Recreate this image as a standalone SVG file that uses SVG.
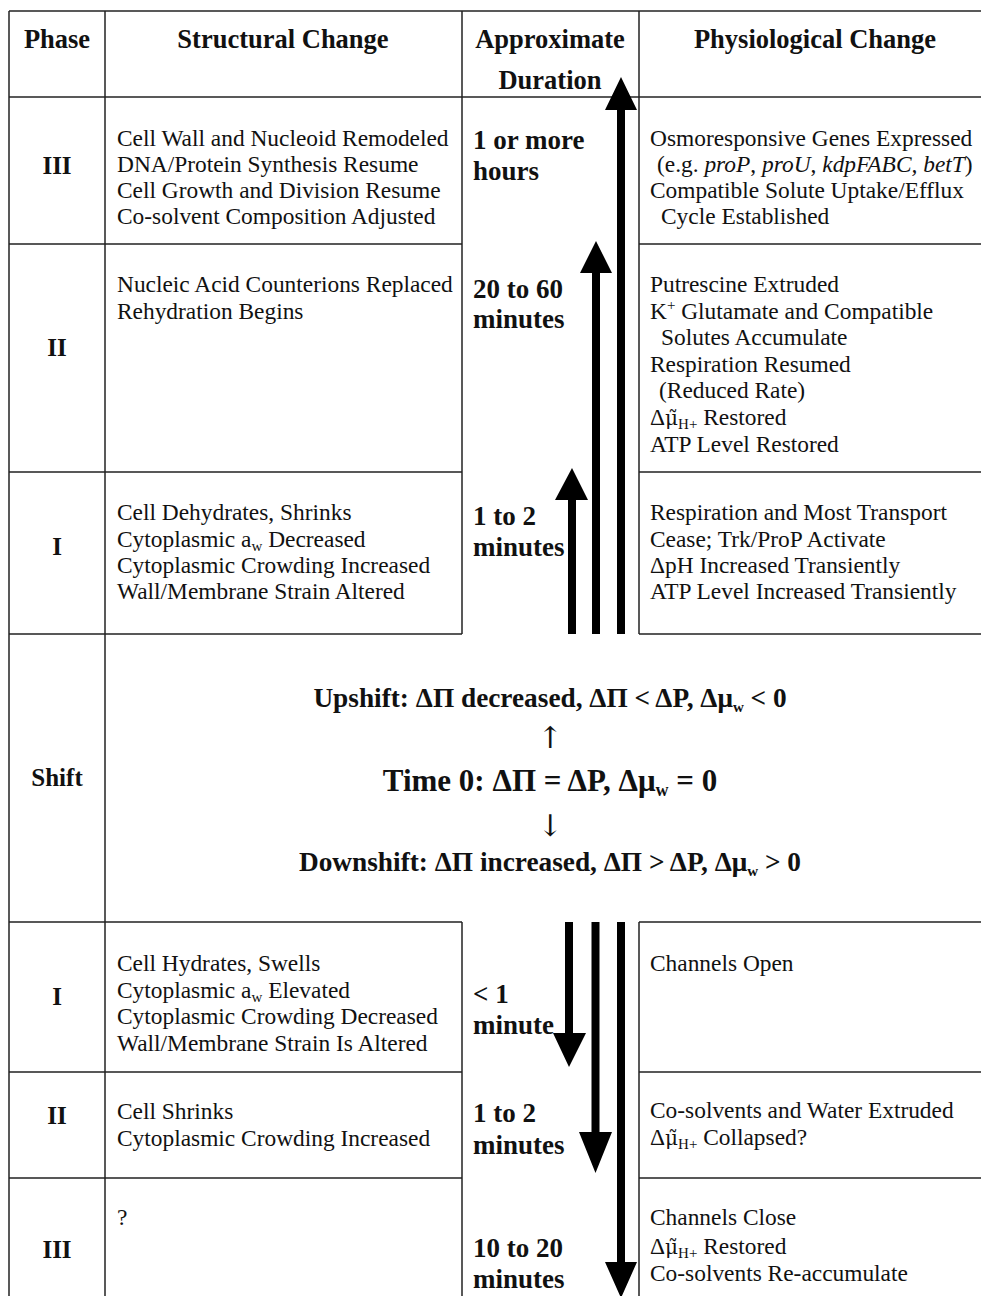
<svg xmlns="http://www.w3.org/2000/svg" width="981" height="1296" viewBox="0 0 981 1296">
<style>
.ln{stroke:#222;stroke-width:1.5;fill:none}
.hd{font-family:"Liberation Serif",serif;font-weight:bold;font-size:26.5px;fill:#111;text-anchor:middle}
.ph{font-family:"Liberation Serif",serif;font-weight:bold;font-size:25px;fill:#111;text-anchor:middle}
.tx{font-family:"Liberation Serif",serif;font-size:23.4px;fill:#111}
.du{font-family:"Liberation Serif",serif;font-weight:bold;font-size:27px;fill:#111}
.sh{font-family:"Liberation Serif",serif;font-weight:bold;font-size:27.3px;fill:#111;text-anchor:middle}
.sh0{font-family:"Liberation Serif",serif;font-weight:bold;font-size:31px;fill:#111;text-anchor:middle}
.ar{font-family:"DejaVu Serif",serif;font-size:30px;fill:#111;text-anchor:middle}
.sub{font-size:15px}
.mu{font-family:"DejaVu Serif",serif;font-size:20px}
.it{font-style:italic}
.big{fill:#000}
</style>
<rect width="981" height="1296" fill="#fff"/>
<g id="grid" class="ln">
<line x1="9" y1="11" x2="981" y2="11"/>
<line x1="9" y1="97" x2="981" y2="97"/>
<line x1="9" y1="11" x2="9" y2="1296"/>
<line x1="105" y1="11" x2="105" y2="1296"/>
<line x1="462" y1="11" x2="462" y2="634"/>
<line x1="639" y1="11" x2="639" y2="634"/>
<line x1="462" y1="922" x2="462" y2="1296"/>
<line x1="639" y1="922" x2="639" y2="1296"/>
<path d="M9 244H462M639 244H981M9 472H462M639 472H981M9 634H462M639 634H981M9 922H462M639 922H981M9 1072H462M639 1072H981M9 1178H462M639 1178H981"/>
</g>
<g id="header">
<text class="hd" x="57" y="48">Phase</text>
<text class="hd" x="283" y="48">Structural Change</text>
<text class="hd" x="550" y="48">Approximate</text>
<text class="hd" x="550" y="89">Duration</text>
<text class="hd" x="815" y="48">Physiological Change</text>
</g>
<g id="up-III">
<text class="ph" x="57" y="174">III</text>
<text class="tx"><tspan x="117" y="146">Cell Wall and Nucleoid Remodeled</tspan><tspan x="117" y="172">DNA/Protein Synthesis Resume</tspan><tspan x="117" y="198">Cell Growth and Division Resume</tspan><tspan x="117" y="224">Co-solvent Composition Adjusted</tspan></text>
<text class="du"><tspan x="473" y="149">1 or more</tspan><tspan x="473" y="180">hours</tspan></text>
<text class="tx"><tspan x="650" y="146">Osmoresponsive Genes Expressed</tspan><tspan x="657" y="172">(e.g. <tspan class="it">proP</tspan>, <tspan class="it">proU</tspan>, <tspan class="it">kdpFABC, betT</tspan>)</tspan><tspan x="650" y="198">Compatible Solute Uptake/Efflux</tspan><tspan x="661" y="224">Cycle Established</tspan></text>
</g>
<g id="up-II">
<text class="ph" x="57" y="356">II</text>
<text class="tx"><tspan x="117" y="292">Nucleic Acid Counterions Replaced</tspan><tspan x="117" y="319">Rehydration Begins</tspan></text>
<text class="du"><tspan x="473" y="298">20 to 60</tspan><tspan x="473" y="328">minutes</tspan></text>
<text class="tx"><tspan x="650" y="292">Putrescine Extruded</tspan><tspan x="650" y="319">K<tspan class="sub" dy="-9">+</tspan><tspan dy="9"> Glutamate and Compatible</tspan></tspan><tspan x="661" y="345">Solutes  Accumulate</tspan><tspan x="650" y="372">Respiration Resumed</tspan><tspan x="659" y="398">(Reduced Rate)</tspan><tspan x="650" y="425">Δ<tspan class="mu">μ̃</tspan><tspan class="sub" dy="4">H+</tspan><tspan dy="-4"> Restored</tspan></tspan><tspan x="650" y="452">ATP Level Restored</tspan></text>
</g>
<g id="up-I">
<text class="ph" x="57" y="555">I</text>
<text class="tx"><tspan x="117" y="520">Cell Dehydrates, Shrinks</tspan><tspan x="117" y="547">Cytoplasmic a<tspan class="sub" dy="4">w</tspan><tspan dy="-4"> Decreased</tspan></tspan><tspan x="117" y="573">Cytoplasmic Crowding Increased</tspan><tspan x="117" y="599">Wall/Membrane Strain Altered</tspan></text>
<text class="du"><tspan x="473" y="525">1 to 2</tspan><tspan x="473" y="556">minutes</tspan></text>
<text class="tx"><tspan x="650" y="520">Respiration and Most Transport</tspan><tspan x="650" y="547">Cease; Trk/ProP Activate</tspan><tspan x="650" y="573">ΔpH Increased Transiently</tspan><tspan x="650" y="599">ATP Level Increased Transiently</tspan></text>
</g>
<g id="shift">
<text class="ph" x="57" y="786">Shift</text>
<text class="sh" x="550" y="707">Upshift: ΔΠ decreased, ΔΠ &lt; ΔP, Δμ<tspan class="sub" dy="5">w</tspan><tspan dy="-5"> &lt; 0</tspan></text>
<text class="ar" x="550" y="748">↑</text>
<text class="sh0" x="550" y="791">Time 0: ΔΠ = ΔP, Δμ<tspan font-size="18" dy="5">w</tspan><tspan dy="-5"> = 0</tspan></text>
<text class="ar" x="550" y="836">↓</text>
<text class="sh" x="550" y="871">Downshift: ΔΠ increased, ΔΠ &gt; ΔP, Δμ<tspan class="sub" dy="5">w</tspan><tspan dy="-5"> &gt; 0</tspan></text>
</g>
<g id="down-I">
<text class="ph" x="57" y="1005">I</text>
<text class="tx"><tspan x="117" y="971">Cell Hydrates, Swells</tspan><tspan x="117" y="998">Cytoplasmic a<tspan class="sub" dy="4">w</tspan><tspan dy="-4"> Elevated</tspan></tspan><tspan x="117" y="1024">Cytoplasmic Crowding Decreased</tspan><tspan x="117" y="1051">Wall/Membrane Strain Is Altered</tspan></text>
<text class="du"><tspan x="473" y="1003">&lt; 1</tspan><tspan x="473" y="1034">minute</tspan></text>
<text class="tx" x="650" y="971">Channels Open</text>
</g>
<g id="down-II">
<text class="ph" x="57" y="1124">II</text>
<text class="tx"><tspan x="117" y="1119">Cell Shrinks</tspan><tspan x="117" y="1146">Cytoplasmic Crowding Increased</tspan></text>
<text class="du"><tspan x="473" y="1122">1 to 2</tspan><tspan x="473" y="1154">minutes</tspan></text>
<text class="tx"><tspan x="650" y="1118">Co-solvents and Water Extruded</tspan><tspan x="650" y="1145">Δ<tspan class="mu">μ̃</tspan><tspan class="sub" dy="4">H+</tspan><tspan dy="-4"> Collapsed?</tspan></tspan></text>
</g>
<g id="down-III">
<text class="ph" x="57" y="1258">III</text>
<text class="tx" x="117" y="1225" font-size="18">?</text>
<text class="du"><tspan x="473" y="1257">10 to 20</tspan><tspan x="473" y="1288">minutes</tspan></text>
<text class="tx"><tspan x="650" y="1225">Channels Close</tspan><tspan x="650" y="1254">Δ<tspan class="mu">μ̃</tspan><tspan class="sub" dy="4">H+</tspan><tspan dy="-4"> Restored</tspan></tspan><tspan x="650" y="1281">Co-solvents Re-accumulate</tspan></text>
</g>
<g id="connectors" class="big">
<path d="M568 634V500H555L572 468L588 500H576V634Z"/>
<path d="M592 634V273H580L596 241L612 273H600V634Z"/>
<path d="M617 634V110H605L621 77L637 110H625V634Z"/>
<path d="M565 922V1033H553L569 1067L586 1033H573V922Z"/>
<path d="M591.5 922V1132H579L595.5 1173L612 1132H599.5V922Z"/>
<path d="M617 922V1262H605L621 1298L637 1262H625V922Z"/>
</g>
</svg>
